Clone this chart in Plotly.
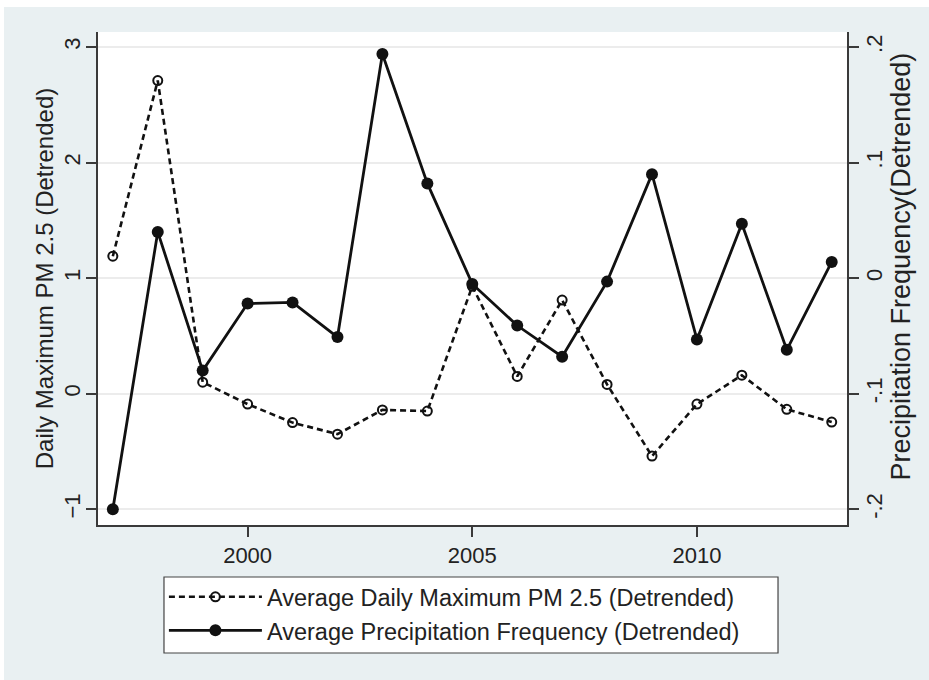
import plotly.graph_objects as go

years = list(range(1997, 2014))
pm25 = [1.19, 2.71, 0.10, -0.09, -0.25, -0.35, -0.14, -0.15, 0.93, 0.15, 0.81, 0.08, -0.54, -0.09, 0.16, -0.135, -0.245]
precip = [-0.200, 0.040, -0.080, -0.022, -0.021, -0.051, 0.194, 0.082, -0.005, -0.041, -0.068, -0.003, 0.090, -0.053, 0.047, -0.062, 0.014]

left_ticks = [-1, 0, 1, 2, 3]
right_ticks = [-0.2, -0.1, 0, 0.1, 0.2]
right_ticktext = ["-.2", "-.1", "0", ".1", ".2"]
x_ticks = [2000, 2005, 2010]

FONT = "Liberation Sans, Arial, sans-serif"
BG = "#e9f0f2"
AX = "#3a3a3a"
TXT = "#222222"

fig = go.Figure()
fig.add_trace(go.Scatter(
    x=years, y=pm25, mode="lines+markers",
    name="Average Daily Maximum PM 2.5 (Detrended)",
    line=dict(color="#111111", width=2.6, dash="6px,4px"),
    marker=dict(symbol="circle-open", size=9, color="#111111", line=dict(width=2)),
    yaxis="y",
))
fig.add_trace(go.Scatter(
    x=years, y=precip, mode="lines+markers",
    name="Average Precipitation Frequency (Detrended)",
    line=dict(color="#111111", width=2.8),
    marker=dict(symbol="circle", size=12, color="#111111"),
    yaxis="y2",
))

ylo, yhi = -1.136, 3.13
fig.update_layout(
    width=929, height=680,
    paper_bgcolor=BG, plot_bgcolor="white",
    margin=dict(l=98, r=82, t=32, b=155, autoexpand=False),
    font=dict(family=FONT, color=TXT, size=22),
    xaxis=dict(
        range=[1996.67, 2013.34], tickvals=x_ticks, automargin=False,
        showgrid=False, zeroline=False,
        showline=True, linecolor=AX, linewidth=1.5,
        ticks="outside", ticklen=10, tickwidth=1.5, tickcolor=AX,
        tickfont=dict(size=22, family=FONT, color=TXT),
    ),
    yaxis=dict(
        range=[ylo, yhi], tickvals=left_ticks, automargin=False,
        showgrid=True, gridcolor="#ececec", gridwidth=1.5, zeroline=False,
        showline=True, linecolor=AX, linewidth=1.5,
        ticks="outside", ticklen=10, tickwidth=1.5, tickcolor=AX,
        tickangle=-90, ticklabelstandoff=-3,
        tickfont=dict(size=22, family=FONT, color=TXT),
        title=dict(text="Daily Maximum PM 2.5 (Detrended)", font=dict(size=24, family=FONT, color=TXT), standoff=0),
    ),
    yaxis2=dict(
        range=[(ylo - 1) * 0.1, (yhi - 1) * 0.1], tickvals=right_ticks, ticktext=right_ticktext,
        overlaying="y", side="right", automargin=False,
        showgrid=False, zeroline=False,
        showline=True, linecolor=AX, linewidth=1.5,
        ticks="outside", ticklen=10, tickwidth=1.5, tickcolor=AX,
        tickangle=-90, ticklabelstandoff=-3,
        tickfont=dict(size=22, family=FONT, color=TXT),
    ),
    annotations=[
        dict(text="Precipitation Frequency(Detrended)", xref="paper", yref="paper",
             x=1.0725, y=0.525, xanchor="center", yanchor="middle", textangle=-90,
             showarrow=False, font=dict(size=27, family=FONT, color=TXT)),
    ],
    legend=dict(
        x=0.088, y=-0.1015, xanchor="left", yanchor="top",
        bgcolor="rgba(0,0,0,0)", borderwidth=0,
        font=dict(size=23.5, family=FONT, color=TXT),
        itemwidth=93,
    ),
    shapes=[
        dict(type="rect", xref="paper", yref="paper", x0=-0.3, x1=1.3, y0=1.0507, y1=1.3,
             fillcolor="white", line=dict(width=0), layer="above"),
        dict(type="rect", xref="paper", yref="paper", x0=-0.3, x1=-0.1255, y0=-0.5, y1=1.3,
             fillcolor="white", line=dict(width=0), layer="above"),
        dict(type="rect", xref="paper", yref="paper", x0=0.0881, x1=0.9079, y0=-0.2596, y1=-0.1055,
             fillcolor="white", line=dict(width=1.2, color="#444444"), layer="above"),
    ],
)

fig.write_html("out.html", config={"displayModeBar": False},
               post_script="document.body.style.margin='0';document.body.style.overflow='hidden';")
